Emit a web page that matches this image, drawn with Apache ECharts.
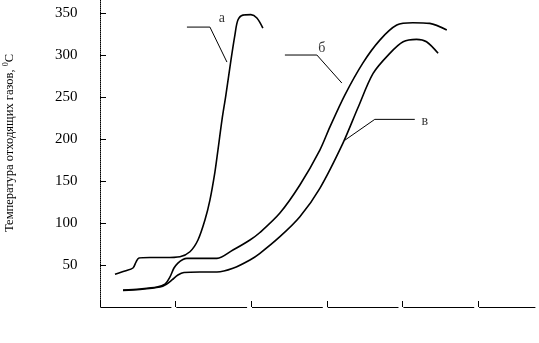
<!DOCTYPE html>
<html>
<head>
<meta charset="utf-8">
<script src="https://cdn.jsdelivr.net/npm/echarts@6/dist/echarts.min.js"></script>
<style>html,body{margin:0;padding:0;background:#fff}#c{width:539px;height:343px}</style>
</head>
<body>
<div id="c"></div>
<script>
// ---- data (x in axis units, y in °C) ----
const xTicks = [0, 1, 2, 3, 4, 5];
const yTicks = [50, 100, 150, 200, 250, 300, 350];
const yTitle = 'Температура отходящих газов, ';
const curveA = [[0.198,39.0],[0.330,42.9],[0.436,46.5],[0.476,53.6],[0.515,58.4],[0.661,59.0],[0.859,59.0],[1.057,60.0],[1.189,65.9],[1.295,79.9],[1.387,103.7],[1.453,127.5],[1.519,160.9],[1.559,187.1],[1.612,222.9],[1.664,252.7],[1.731,294.4],[1.783,324.2],[1.823,342.1],[1.889,348.0],[1.995,348.6],[2.074,344.5],[2.153,332.5]];
const curveB = [[0.304,20.3],[0.528,21.5],[0.753,23.8],[0.859,27.4],[0.925,35.8],[0.978,46.5],[1.030,52.4],[1.096,56.6],[1.149,58.0],[1.321,58.0],[1.546,58.0],[1.757,67.9],[1.982,79.9],[2.114,88.8],[2.378,112.0],[2.642,145.4],[2.906,187.1],[3.038,214.5],[3.236,252.7],[3.474,290.8],[3.699,318.2],[3.923,336.1],[4.135,338.9],[4.359,338.1],[4.584,330.2]];
const curveV = [[0.304,19.7],[0.528,20.9],[0.793,23.8],[0.872,26.8],[0.951,32.2],[1.030,38.1],[1.110,41.1],[1.321,41.7],[1.546,41.7],[1.757,46.1],[1.982,56.0],[2.114,64.0],[2.378,83.8],[2.642,107.6],[2.906,141.5],[3.210,195.1],[3.408,237.2],[3.610,278.5],[3.831,302.4],[4.007,316.2],[4.184,319.1],[4.316,316.2],[4.469,302.4]];
const leaderA = [[1.149,333.7],[1.453,333.7],[1.678,292.0]];
const leaderB = [[2.444,300.4],[2.867,300.4],[3.197,267.0]];
const leaderV = [[3.236,198.8],[3.632,223.7],[4.161,223.7]];
const curveLabels = [
  {name: 'а', value: [1.612, 344.5]},
  {name: 'б', value: [2.933, 308.7]},
  {name: 'в', value: [4.293, 221.7]}
];

const chart = echarts.init(document.getElementById('c'), null, {renderer: 'canvas'});
const serif = 'Liberation Serif';
function curve(data) {
  return {type: 'line', data: data, showSymbol: false, smooth: 0.3, silent: true,
    lineStyle: {color: '#000', width: 1.6}};
}
function leader(data) {
  return {type: 'line', data: data, showSymbol: false, smooth: false, silent: true,
    lineStyle: {color: '#000', width: 1}};
}
chart.setOption({
  animation: false,
  backgroundColor: '#fff',
  grid: {left: 100, right: 4, top: 0, bottom: 36},
  xAxis: {
    type: 'value', min: 0, max: 5.75, interval: 1,
    axisLine: {show: true, lineStyle: {color: '#000', width: 1, type: [70, 5.7], dashOffset: 74.7}},
    axisTick: {show: true, inside: true, length: 6, customValues: xTicks, lineStyle: {color: '#000', width: 1}},
    axisLabel: {show: false},
    splitLine: {show: false}
  },
  yAxis: {
    type: 'value', min: 0, max: 366, interval: 50, offset: 2.5,
    axisLine: {show: true, lineStyle: {color: '#000', width: 1, type: [1, 1]}},
    axisTick: {show: true, inside: true, length: 6, customValues: yTicks, lineStyle: {color: '#000', width: 1}},
    axisLabel: {show: true, customValues: yTicks, margin: 20, color: '#000', fontFamily: serif, fontSize: 15},
    splitLine: {show: false}
  },
  graphic: [{
    type: 'text', x: 10, y: 143, rotation: Math.PI / 2,
    style: {
      text: yTitle + '{s|0}С', fill: '#000', font: '12.5px ' + serif, align: 'center', verticalAlign: 'middle',
      rich: {s: {fontSize: 8, fontFamily: serif, verticalAlign: 'top', padding: [0, 0, 8, 0]}}
    }
  }],
  series: [
    curve(curveA), curve(curveB), curve(curveV),
    leader(leaderA), leader(leaderB), leader(leaderV),
    {type: 'scatter', data: curveLabels, symbolSize: 0, silent: true,
      label: {show: true, position: 'inside', formatter: '{b}', color: '#000', fontFamily: serif, fontSize: 14}}
  ]
});
</script>
</body>
</html>
